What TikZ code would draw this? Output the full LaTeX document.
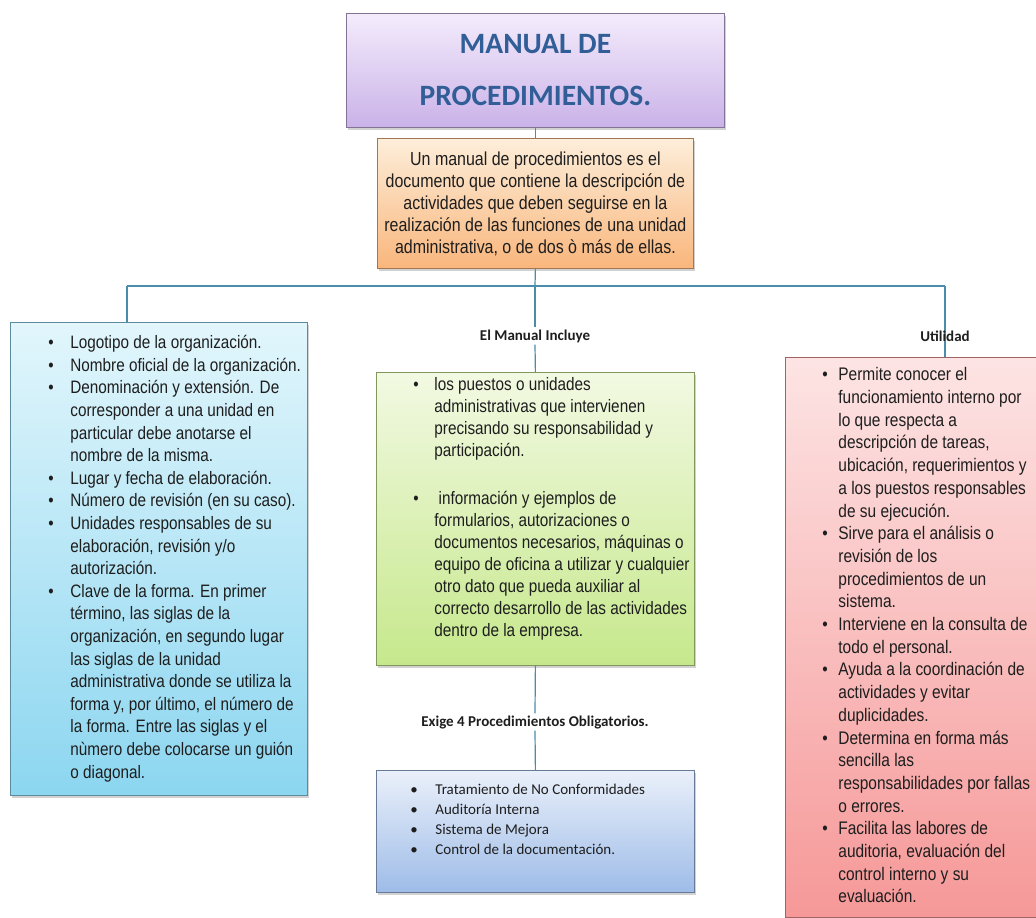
\documentclass[tikz,border=0pt]{standalone}
\usepackage{fontspec}
\newfontfamily\cuerpo{Liberation Sans}[FakeStretch=0.85]
\newfontfamily\calibri{Carlito}
\usepackage{xcolor}
\usetikzlibrary{shadows}

\definecolor{linea}{RGB}{75,140,170}
\definecolor{texto}{RGB}{30,30,30}
\definecolor{titulo}{RGB}{50,94,152}
\definecolor{lilaA}{RGB}{244,236,252}
\definecolor{lilaB}{RGB}{202,178,232}
\definecolor{naranjaA}{RGB}{253,238,218}
\definecolor{naranjaB}{RGB}{249,182,124}
\definecolor{cianA}{RGB}{226,246,252}
\definecolor{cianB}{RGB}{140,214,240}
\definecolor{verdeA}{RGB}{242,249,226}
\definecolor{verdeB}{RGB}{198,232,140}
\definecolor{azulA}{RGB}{234,240,250}
\definecolor{azulB}{RGB}{158,188,232}
\definecolor{rojoA}{RGB}{253,228,228}
\definecolor{rojoB}{RGB}{246,152,152}

% lista con viñetas: margen, ancho viñeta, ancho texto, filas
\newcommand{\lista}[4]{\begin{tabular}{@{\hspace{#1}}p{#2}@{}p{#3}@{}}#4\end{tabular}}

\begin{document}
\begin{tikzpicture}[x=1pt, y=-1pt,
    caja/.style 2 args={rectangle, top color=#1, bottom color=#2, draw=#2!65!black,
        line width=0.8pt, inner sep=0pt, anchor=north west, text=texto,
        drop shadow={shadow xshift=2pt, shadow yshift=-3pt, opacity=0.35}},
    conector/.style={draw=linea, line width=1.2pt},
    etiqueta/.style={font=\calibri\bfseries\fontsize{15}{17}\selectfont, text=texto, inner sep=2pt},
    cuerpoA/.style={font=\cuerpo\fontsize{18}{22.6}\selectfont},
    cuerpoB/.style={font=\cuerpo\fontsize{18}{22}\selectfont}]

    \useasboundingbox (0,0) rectangle (1036,918);
    \fill[white] (0,0) rectangle (1036,918);

    % Título
    \node[caja={lilaA}{lilaB}, minimum width=378, minimum height=114, align=center,
        font=\calibri\bfseries\fontsize{29.5}{52}\selectfont, text=titulo]
        (tit) at (346,13) {MANUAL DE\\PROCEDIMIENTOS.};

    % Definición
    \node[caja={naranjaA}{naranjaB}, minimum width=316, minimum height=130, align=center,
        font=\cuerpo\fontsize{18.8}{22}\selectfont]
        (def) at (377,138) {Un manual de procedimientos es el\\
        documento que contiene la descripción de\\
        actividades que deben seguirse en la\\
        realización de las funciones de una unidad\\
        administrativa, o de dos ò más de ellas.};

    % Caja izquierda
    \node[caja={cianA}{cianB}, minimum width=297, minimum height=473, cuerpoA]
        (izq) at (10,322) {\lista{38pt}{22pt}{237pt}{%
        \textbullet & Logotipo de la organización.\\
        \textbullet & Nombre oficial de la organización.\\
        \textbullet & Denominación y extensión. De\\
         & corresponder a una unidad en\\
         & particular debe anotarse el\\
         & nombre de la misma.\\
        \textbullet & Lugar y fecha de elaboración.\\
        \textbullet & Número de revisión (en su caso).\\
        \textbullet & Unidades responsables de su\\
         & elaboración, revisión y/o\\
         & autorización.\\
        \textbullet & Clave de la forma. En primer\\
         & término, las siglas de la\\
         & organización, en segundo lugar\\
         & las siglas de la unidad\\
         & administrativa donde se utiliza la\\
         & forma y, por último, el número de\\
         & la forma. Entre las siglas y el\\
         & nùmero debe colocarse un guión\\
         & o diagonal.}};

    % Caja central
    \node[caja={verdeA}{verdeB}, minimum width=318, minimum height=293, cuerpoB]
        (incl) at (376,372) {\lista{37pt}{21pt}{260pt}{%
        \textbullet & los puestos o unidades\\
         & administrativas que intervienen\\
         & precisando su responsabilidad y\\
         & participación.\\[26pt]
        \textbullet & \ información y ejemplos de\\
         & formularios, autorizaciones o\\
         & documentos necesarios, máquinas o\\
         & equipo de oficina a utilizar y cualquier\\
         & otro dato que pueda auxiliar al\\
         & correcto desarrollo de las actividades\\
         & dentro de la empresa.\\[20pt]}};

    % Procedimientos obligatorios
    \node[caja={azulA}{azulB}, minimum width=318, minimum height=122,
        font=\calibri\fontsize{15}{20}\selectfont]
        (oblig) at (376,770) {\lista{34pt}{25pt}{259pt}{%
        \textbullet & Tratamiento de No Conformidades\\
        \textbullet & Auditoría Interna\\
        \textbullet & Sistema de Mejora\\
        \textbullet & Control de la documentación.\\[22pt]}};

    % Caja derecha
    \node[caja={rojoA}{rojoB}, minimum width=260, minimum height=560,
        font=\cuerpo\fontsize{18.2}{22.7}\selectfont]
        (util) at (785,357) {\lista{37pt}{16pt}{207pt}{%
        \textbullet & Permite conocer el\\
         & funcionamiento interno por\\
         & lo que respecta a\\
         & descripción de tareas,\\
         & ubicación, requerimientos y\\
         & a los puestos responsables\\
         & de su ejecución.\\
        \textbullet & Sirve para el análisis o\\
         & revisión de los\\
         & procedimientos de un\\
         & sistema.\\
        \textbullet & Interviene en la consulta de\\
         & todo el personal.\\
        \textbullet & Ayuda a la coordinación de\\
         & actividades y evitar\\
         & duplicidades.\\
        \textbullet & Determina en forma más\\
         & sencilla las\\
         & responsabilidades por fallas\\
         & o errores.\\
        \textbullet & Facilita las labores de\\
         & auditoria, evaluación del\\
         & control interno y su\\
         & evaluación.}};

    % Etiquetas
    \node[etiqueta, fill=white] (lblincl) at (535,336) {El Manual Incluye};
    \node[etiqueta, fill=white] (lblexige) at (535,722) {Exige 4 Procedimientos Obligatorios.};

    % Conectores
    \coordinate (bus) at (535,286);
    \coordinate (busizq) at (127,286);
    \coordinate (busder) at (945,286);
    \draw[conector] (tit) -- (def);
    \draw[conector] (def.south) -- (bus);
    \draw[conector] (busizq) -- (busder);
    \draw[conector] (busizq) -- (busizq |- izq.north);
    \draw[conector] (bus) -- (lblincl.north);
    \draw[conector] (lblincl.south) -- (incl.north);
    \draw[conector] (busder) -- (busder |- util.north);
    \draw[conector] (incl.south) -- (lblexige.north);
    \draw[conector] (lblexige.south) -- (oblig.north);

    \node[etiqueta] (lblutil) at (945,336) {Utilidad};

\end{tikzpicture}
\end{document}
